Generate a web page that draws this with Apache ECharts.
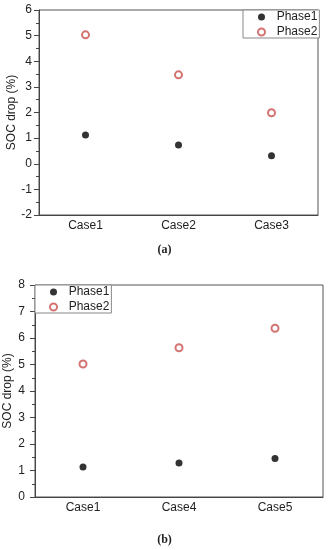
<!DOCTYPE html>
<html><head><meta charset="utf-8">
<script src="https://cdn.jsdelivr.net/npm/echarts@6/dist/echarts.min.js"></script>
<style>html,body{margin:0;padding:0;background:#fff}#c{width:329px;height:550px}</style>
</head><body><div id="c"></div>
<script>
var catsA = ['Case1', 'Case2', 'Case3'];
var phase1A = [1.12, 0.73, 0.31];
var phase2A = [5.03, 3.47, 1.99];
var catsB = ['Case1', 'Case4', 'Case5'];
var phase1B = [1.13, 1.28, 1.45];
var phase2B = [5.02, 5.63, 6.37];
var yLabel = 'SOC drop (%)';

var font = '"Liberation Sans", Arial, sans-serif';
var axisCol = '#444';
var red = '#c8504f';

function xAxis(idx, cats) {
  return {
    type: 'category', gridIndex: idx, data: cats, boundaryGap: true,
    axisLine: { onZero: false, lineStyle: { color: axisCol, width: 1 } },
    axisTick: { inside: true, length: 4, alignWithLabel: true, lineStyle: { color: axisCol } },
    axisLabel: { color: '#222', fontFamily: font, fontSize: 12, margin: 5 },
    splitLine: { show: false }
  };
}
function yAxis(idx, min, max, gap, margin) {
  return {
    type: 'value', gridIndex: idx, min: min, max: max, interval: 1,
    name: yLabel, nameLocation: 'middle', nameGap: gap, nameRotate: 90,
    nameMoveOverlap: false,
    nameTextStyle: { color: '#222', fontFamily: font, fontSize: 12 },
    axisLine: { show: true, onZero: false, lineStyle: { color: axisCol, width: 1 } },
    axisTick: { show: true, length: 5, lineStyle: { color: axisCol } },
    minorTick: { show: true, splitNumber: 2, length: 3, lineStyle: { color: axisCol } },
    axisLabel: { color: '#222', fontFamily: font, fontSize: 12, margin: margin },
    splitLine: { show: false }
  };
}
function legend(left, top) {
  return {
    orient: 'vertical', left: left, top: top,
    data: ['Phase1', 'Phase2'],
    itemWidth: 7, itemHeight: 7, itemGap: 3,
    padding: [1, 2, 0, 14],
    borderColor: '#888', borderWidth: 1, backgroundColor: '#fff',
    formatter: '  {name}',
    textStyle: { color: '#222', fontFamily: font, fontSize: 12 },
    selectedMode: false
  };
}
function p1(xi, data) {
  return { name: 'Phase1', type: 'scatter', xAxisIndex: xi, yAxisIndex: xi, data: data,
    symbol: 'circle', symbolSize: 7, itemStyle: { color: '#000' } };
}
function p2(xi, data) {
  return { name: 'Phase2', type: 'scatter', xAxisIndex: xi, yAxisIndex: xi, data: data,
    symbol: 'emptyCircle', symbolSize: 7, itemStyle: { color: red, borderWidth: 1 } };
}

var chart = echarts.init(document.getElementById('c'));
chart.setOption({
  animation: false,
  grid: [
    { left: 39, right: 11, top: 10, height: 205, outerBoundsMode: 'none', containLabel: false, show: true, borderColor: '#555', borderWidth: 1, backgroundColor: 'transparent' },
    { left: 35, right: 6, top: 285, height: 212, outerBoundsMode: 'none', containLabel: false, show: true, borderColor: '#555', borderWidth: 1, backgroundColor: 'transparent' }
  ],
  xAxis: [xAxis(0, catsA), xAxis(1, catsB)],
  yAxis: [yAxis(0, -2, 6, 21, 7), yAxis(1, 0, 8, 21, 10)],
  legend: [legend(243, 10), legend(35, 285)],
  series: [p1(0, phase1A), p2(0, phase2A), p1(1, phase1B), p2(1, phase2B)],
  graphic: [
    { type: 'text', left: 'center', top: 244, style: { text: '(a)', font: 'bold 12px "Liberation Serif", serif', fill: '#222' } },
    { type: 'text', left: 'center', top: 534, style: { text: '(b)', font: 'bold 12px "Liberation Serif", serif', fill: '#222' } }
  ]
});
</script></body></html>
